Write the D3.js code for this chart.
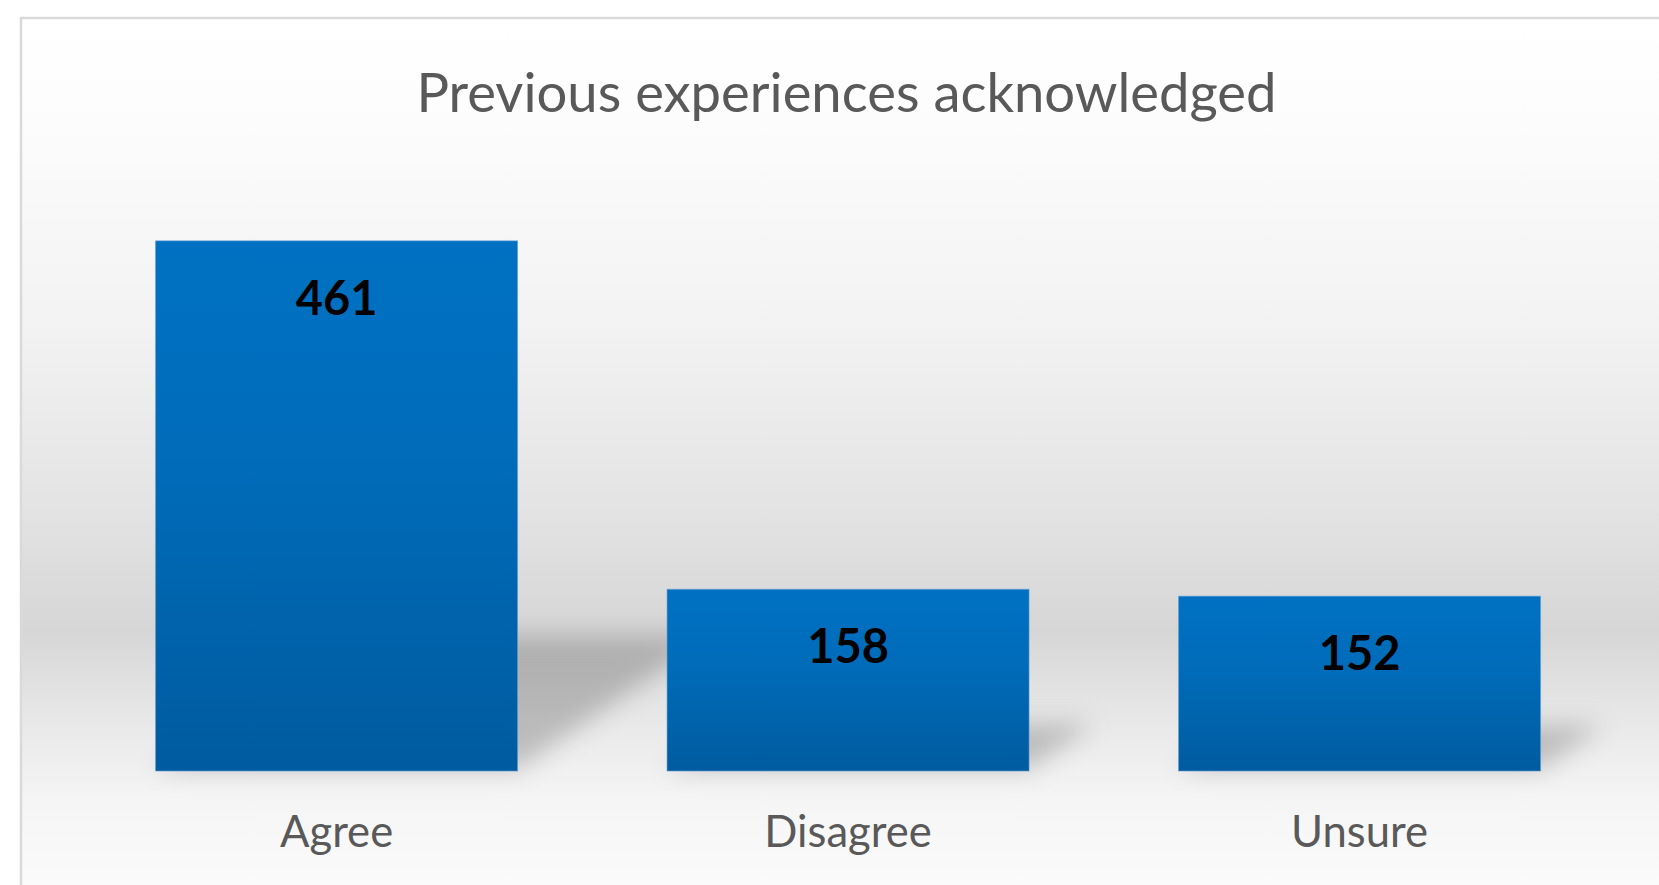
<!DOCTYPE html>
<html>
<head>
<meta charset="utf-8">
<script src="https://cdn.jsdelivr.net/npm/d3@7"></script>
<style>
  html, body { margin: 0; padding: 0; background: #ffffff; overflow: hidden; }
  svg { display: block; }
</style>
</head>
<body>
<svg id="chart" width="1659" height="885"></svg>
<script>
const title = "Previous experiences acknowledged";
const categories = ["Agree", "Disagree", "Unsure"];
const values = [461, 158, 152];
const yDomain = [0, 500];

const W = 1659, H = 885;
const svg = d3.select("#chart");
const defs = svg.append("defs");

// background gradient of chart area
const bg = defs.append("linearGradient").attr("id", "bgGrad")
  .attr("x1", 0).attr("y1", 0).attr("x2", 0).attr("y2", 1);
[[0, "#ffffff"], [0.12, "#fcfcfc"], [0.35, "#f2f2f2"], [0.55, "#e3e3e3"], [0.68, "#d6d6d6"],
 [0.78, "#e8e8e8"], [0.87, "#f5f5f5"], [0.95, "#fafafa"], [1, "#fdfdfd"]]
  .forEach(([o, c]) => bg.append("stop").attr("offset", o).attr("stop-color", c));

const barGrad = defs.append("linearGradient").attr("id", "barGrad")
  .attr("x1", 0).attr("y1", 0).attr("x2", 0).attr("y2", 1);
[[0, "#0071c2"], [0.4, "#006cba"], [1, "#005b9f"]]
  .forEach(([o, c]) => barGrad.append("stop").attr("offset", o).attr("stop-color", c));

const blur = defs.append("filter").attr("id", "shadowBlur")
  .attr("x", "-50%").attr("y", "-50%").attr("width", "200%").attr("height", "200%");
blur.append("feGaussianBlur").attr("stdDeviation", 12);

// chart area
const chartX = 21, chartY = 18, chartW = 1652, chartH = 900;
svg.append("rect")
  .attr("x", chartX).attr("y", chartY).attr("width", chartW).attr("height", chartH)
  .attr("fill", "url(#bgGrad)")
  .attr("stroke", "#d9d9d9").attr("stroke-width", 2.5);

// scales
const x = d3.scaleBand().domain(categories).range([80.8, 1615.3])
  .paddingInner(0.2923).paddingOuter(0.14615);
const y = d3.scaleLinear().domain(yDomain).range([771, 196]);
const data = categories.map((c, i) => ({ c, v: values[i] }));

// perspective shadows
const k = 0.25, skew = 1.45;
svg.append("g").attr("filter", "url(#shadowBlur)")
  .selectAll("polygon").data(data).join("polygon")
  .attr("fill", "rgba(0,0,0,0.2)")
  .attr("points", d => {
    const x0 = x(d.c), x1 = x(d.c) + x.bandwidth();
    const base = y(0) - 2, h = (y(0) - y(d.v)) * k, s = h * skew;
    return [[x0, base], [x1, base], [x1 + s, base - h], [x0 + s, base - h]].join(" ");
  });

// bars
svg.append("g").selectAll("rect").data(data).join("rect")
  .attr("x", d => x(d.c))
  .attr("y", d => y(d.v))
  .attr("width", x.bandwidth())
  .attr("height", d => y(0) - y(d.v))
  .attr("fill", "url(#barGrad)")
  .attr("stroke", "#5b9bd5").attr("stroke-opacity", 0.6).attr("stroke-width", 1);

// data labels
svg.append("g").selectAll("text").data(data).join("text")
  .attr("x", d => x(d.c) + x.bandwidth() / 2)
  .attr("y", d => y(d.v) + 74)
  .attr("text-anchor", "middle")
  .attr("font-family", "Lato, 'Open Sans', sans-serif")
  .attr("font-weight", "bold")
  .attr("font-size", 47)
  .attr("fill", "#000000")
  .text(d => d.v);

// category axis labels
const xAxis = d3.axisBottom(x).tickSize(0).tickPadding(0);
const gx = svg.append("g").attr("transform", `translate(0, ${y(0)})`).call(xAxis);
gx.select(".domain").remove();
gx.selectAll("text")
  .attr("dy", null)
  .attr("y", 76)
  .attr("font-family", "Lato, 'Open Sans', sans-serif")
  .attr("font-size", 43.6)
  .attr("fill", "#595959");

// title
svg.append("text")
  .attr("x", chartX + chartW / 2 - 0.5)
  .attr("y", 112)
  .attr("text-anchor", "middle")
  .attr("font-family", "Lato, 'Open Sans', sans-serif")
  .attr("font-size", 54.4)
  .attr("fill", "#595959")
  .text(title);
</script>
</body>
</html>
